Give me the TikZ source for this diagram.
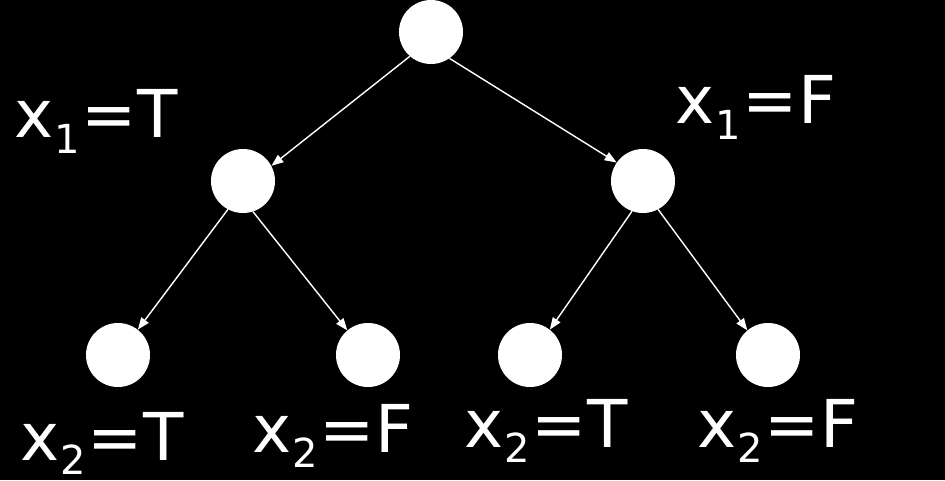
\documentclass[tikz,border=0pt]{standalone}
\usepackage{fontspec}
\setmainfont{DejaVu Sans}
\usetikzlibrary{arrows.meta}
\newcommand{\lbl}[3]{x\hspace{1pt}\raisebox{-#3pt}{\fontsize{40}{42}\selectfont #1}\hspace{2pt}=#2}
\begin{document}
\begin{tikzpicture}[x=1pt,y=-1pt,
  vtx/.style={circle,fill=white,draw=none,minimum size=64pt,inner sep=0pt},
  edge/.style={draw=white,line width=1.4pt,-{Triangle[length=12pt,width=9pt]}},
  lab/.style={text=white,anchor=base west,inner sep=0pt,font=\fontsize{66}{70}\selectfont}]
\fill[black] (0,0) rectangle (945,480);
\useasboundingbox (0,0) rectangle (945,480);
\node[vtx] (r) at (431,32) {};
\node[vtx] (a) at (243,181) {};
\node[vtx] (b) at (643,181) {};
\node[vtx] (aa) at (118,355) {};
\node[vtx] (ab) at (368,355) {};
\node[vtx] (ba) at (530,355) {};
\node[vtx] (bb) at (768,355) {};
\draw[edge] (r.229) -- (a.28);
\draw[edge] (r.-55) -- (b.145);
\draw[edge] (a.-118) -- (aa.52);
\draw[edge] (a.-72) -- (ab.130);
\draw[edge] (b.-110) -- (ba.52);
\draw[edge] (b.-62) -- (bb.130);
\node[lab] (l1) at (14,137) {\lbl{1}{T}{16}};
\node[lab] (l2) at (675,123) {\lbl{1}{F}{16}};
\node[lab] (l3) at (20,460) {\lbl{2}{T}{14}};
\node[lab] (l4) at (252,452) {\lbl{2}{F}{15}};
\node[lab] (l5) at (464,447) {\lbl{2}{T}{15}};
\node[lab] (l6) at (697,447) {\lbl{2}{F}{15}};
\end{tikzpicture}
\end{document}
